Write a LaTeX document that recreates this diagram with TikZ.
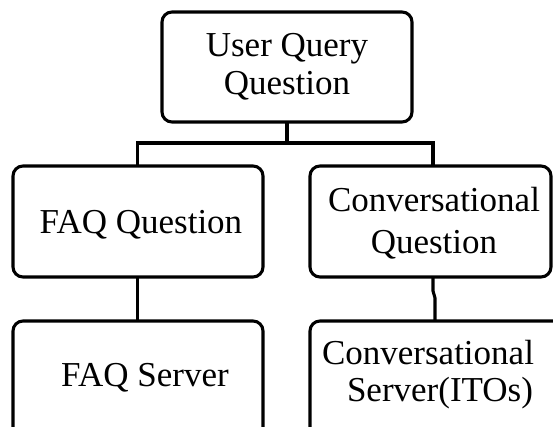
\documentclass[tikz,border=0pt]{standalone}
\usepackage{fontspec}
\setmainfont{Liberation Serif}
\begin{document}
\begin{tikzpicture}[x=1pt,y=-1pt,
  box/.style={draw, line width=3.1pt, rounded corners=10pt},
  lbl/.style={anchor=base, align=center, inner sep=0pt, font=\fontsize{35}{38.5}\selectfont},
  conn/.style={line width=3.1pt}]
\clip (0,0) rectangle (553,427);
% boxes
\path[box] (162,12) rectangle (412,122);
\path[box] (13,166) rectangle (263,277);
\path[box] (310,166) rectangle (551,277);
\path[box] (13,321) rectangle (263,445);
\path[box] (310,321) rectangle (570,445);
% labels (anchored at the baseline of their last line)
\node[lbl] (tq) at (287,95) {User Query\\Question};
\node[lbl] (fq) at (141,234) {FAQ Question};
\node[lbl, font=\fontsize{35}{41}\selectfont] (cq) at (434,253) {Conversational\\Question};
\node[lbl] (fs) at (145,386) {FAQ Server};
\node[lbl, font=\fontsize{35}{37}\selectfont] (cs) at (428,401) {Conversational\\\hspace*{24pt}Server(ITOs)};
% connector points
\coordinate (topS) at (287,122);
\coordinate (busM) at (287,143);
\coordinate (busL) at (137.5,143);
\coordinate (busR) at (433,143);
\coordinate (mLn) at (137.5,166);
\coordinate (mRn) at (433,166);
\coordinate (mLs) at (137.5,277);
\coordinate (mRs) at (433,277);
\coordinate (jog1) at (433,291);
\coordinate (jog2) at (435,298);
\coordinate (bLn) at (137.5,321);
\coordinate (bRn) at (435,321);
\draw[conn] (topS) -- (busM);
\draw[conn] (mLn) -- (busL) -- (busR) -- (mRn);
\draw[conn] (mLs) -- (bLn);
\draw[conn] (mRs) -- (jog1) -- (jog2) -- (bRn);
\end{tikzpicture}
\end{document}
